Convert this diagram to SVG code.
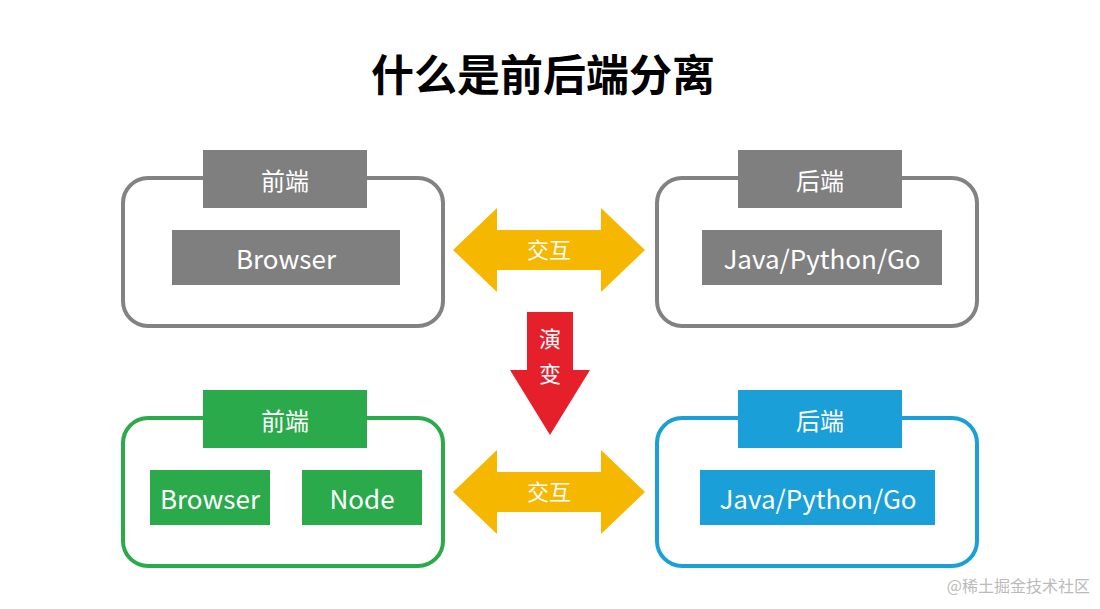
<svg xmlns="http://www.w3.org/2000/svg" width="1100" height="609" viewBox="0 0 1100 609">
<style>
.t{font-family:"Noto Sans CJK SC","Liberation Sans",sans-serif;fill:#fff;text-anchor:middle;dominant-baseline:central}
.box{fill:#fff;stroke-width:4}
</style>
<rect width="1100" height="609" fill="#fff"/>
<text x="543" y="72" font-family="Noto Sans CJK SC,sans-serif" font-weight="bold" font-size="43" text-anchor="middle" dominant-baseline="central" fill="#000">什么是前后端分离</text>
<g id="connectors">
<path d="M453,250 L497,208 L497,230 L601,230 L601,208 L645,250 L601,292 L601,270 L497,270 L497,292 Z" fill="#f5b700"/>
<text class="t" x="549" y="248" font-size="22">交互</text>
<path d="M453,492 L497,450 L497,472 L601,472 L601,450 L645,492 L601,534 L601,512 L497,512 L497,534 Z" fill="#f5b700"/>
<text class="t" x="549" y="490" font-size="22">交互</text>
<path d="M527,312 L573,312 L573,370 L590,370 L550,435 L510,370 L527,370 Z" fill="#e5202a"/>
<text class="t" x="550" y="337" font-size="22">演</text>
<text class="t" x="550" y="372" font-size="22">变</text>
</g>
<g id="fe-old">
<rect class="box" x="123" y="178" width="320" height="148" rx="25" stroke="#828282"/>
<rect x="203" y="150" width="164" height="58" fill="#7f7f7f"/>
<text class="t" x="285" y="179" font-size="24">前端</text>
<rect x="172" y="230" width="228" height="55" fill="#7f7f7f"/>
<text class="t" x="286" y="257" font-size="26">Browser</text>
</g>
<g id="be-old">
<rect class="box" x="657" y="178" width="320" height="148" rx="25" stroke="#828282"/>
<rect x="738" y="150" width="164" height="58" fill="#7f7f7f"/>
<text class="t" x="820" y="179" font-size="24">后端</text>
<rect x="702" y="230" width="240" height="55" fill="#7f7f7f"/>
<text class="t" x="822" y="257" font-size="26">Java/Python/Go</text>
</g>
<g id="fe-new">
<rect class="box" x="123" y="418" width="320" height="148" rx="25" stroke="#2aaa4a"/>
<rect x="203" y="390" width="164" height="58" fill="#2aaa4a"/>
<text class="t" x="285" y="419" font-size="24">前端</text>
<rect x="150" y="470" width="120" height="55" fill="#2aaa4a"/>
<text class="t" x="210" y="497" font-size="26">Browser</text>
<rect x="302" y="470" width="120" height="55" fill="#2aaa4a"/>
<text class="t" x="362" y="497" font-size="26">Node</text>
</g>
<g id="be-new">
<rect class="box" x="657" y="418" width="320" height="148" rx="25" stroke="#1a9fd8"/>
<rect x="738" y="390" width="164" height="58" fill="#1a9fd8"/>
<text class="t" x="820" y="419" font-size="24">后端</text>
<rect x="700" y="470" width="235" height="55" fill="#1a9fd8"/>
<text class="t" x="818" y="497" font-size="26">Java/Python/Go</text>
</g>
<text x="1090" y="592" font-family="Noto Sans CJK SC,sans-serif" font-size="16" text-anchor="end" fill="#bbb">@稀土掘金技术社区</text>
</svg>
